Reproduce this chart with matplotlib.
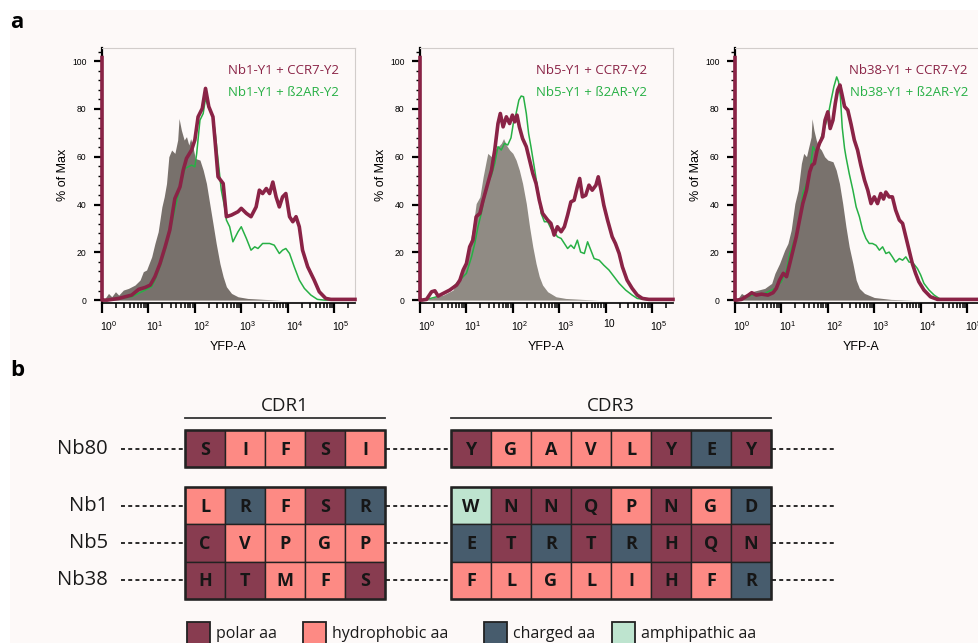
import numpy as np
import matplotlib.pyplot as plt
from matplotlib.patches import Rectangle
from matplotlib.ticker import FixedLocator, LogLocator, MultipleLocator
from matplotlib.transforms import ScaledTranslation

# ---------------- panel a: flow histograms (log10 YFP-A vs % of Max) ----------------
nb1_ccr7_lx = [0.0, 0.0, 0.04, 0.11, 0.36, 0.64, 0.79, 0.93, 1.04, 1.14, 1.25, 1.36, 1.46, 1.57, 1.68, 1.75,
               1.82, 1.93, 2.00, 2.07, 2.16, 2.23, 2.30, 2.39, 2.44, 2.50, 2.61, 2.68, 2.79, 2.93, 3.00,
               3.11, 3.21, 3.32, 3.39, 3.46, 3.54, 3.61, 3.68, 3.75, 3.82, 3.89, 3.96, 4.04, 4.11, 4.18,
               4.25, 4.32, 4.43, 4.57, 4.68, 4.82, 4.93, 5.45]
nb1_ccr7_pct = [101.5, 0, 0, 0, 0.7, 2.1, 4.5, 5.3, 6.3, 9.8, 15.3, 22.3, 29.3, 42.5, 47.4, 54.4,
                59.3, 62.8, 67.0, 76.7, 80.2, 88.6, 81.0, 76.7, 65.6, 51.6, 48.8, 34.9, 35.6, 37.0, 38.4,
                36.3, 34.9, 39.0, 46.0, 44.6, 46.7, 44.6, 49.4, 43.2, 39.0, 43.2, 44.6, 34.9, 32.8, 34.9,
                30.7, 20.9, 14.0, 8.4, 3.5, 0.7, 0.3, 0.3]
nb1_b2ar_lx = [0.11, 0.64, 0.93, 1.07, 1.14, 1.25, 1.36, 1.46, 1.64, 1.71, 1.79, 1.86, 1.93, 2.00, 2.04,
               2.11, 2.18, 2.23, 2.29, 2.39, 2.44, 2.50, 2.57, 2.64, 2.68, 2.75, 2.82, 2.93, 3.00, 3.11,
               3.21, 3.29, 3.36, 3.46, 3.61, 3.71, 3.82, 3.89, 3.96, 4.04, 4.14, 4.25, 4.36, 4.50, 4.64,
               4.79, 5.45]
nb1_b2ar_pct = [0, 1.4, 4.2, 5.6, 8.4, 14.0, 20.9, 28.5, 43.9, 49.9, 55.1, 55.8, 56.5, 55.8, 61.4,
                75.3, 78.1, 84.4, 81.0, 76.7, 69.7, 58.6, 46.0, 39.0, 33.5, 30.7, 24.4, 28.6, 30.7, 25.8,
                20.9, 22.3, 21.6, 23.7, 23.7, 23.0, 19.5, 20.9, 21.6, 19.5, 14.0, 8.4, 4.9, 2.1, 0.3,
                0, 0]
nb1_ctrl_lx = [0.04, 0.14, 0.21, 0.29, 0.36, 0.46, 0.57, 0.71, 0.82, 0.89, 0.96, 1.07, 1.14, 1.21, 1.29,
               1.34, 1.39, 1.44, 1.50, 1.57, 1.63, 1.66, 1.71, 1.77, 1.82, 1.87, 1.91, 1.96, 2.01, 2.11,
               2.18, 2.25, 2.32, 2.39, 2.46, 2.54, 2.61, 2.68, 2.79, 2.93, 3.14, 3.50, 3.86, 5.45]
nb1_ctrl_pct = [0, 2.8, 1.4, 3.5, 2.1, 4.2, 4.9, 6.3, 8.4, 11.9, 12.6, 18.1, 23.7, 28.6, 39.0,
                43.2, 48.8, 60.0, 62.8, 61.4, 67.0, 76.0, 71.1, 67.0, 68.4, 64.9, 67.6, 64.0, 59.3, 58.6,
                54.4, 48.8, 40.4, 32.1, 23.7, 15.3, 9.8, 5.6, 2.8, 1.4, 0.7, 0.3, 0, 0]

nb5_ccr7_lx = [0.0, 0.0, 0.04, 0.14, 0.25, 0.32, 0.39, 0.50, 0.64, 0.79, 0.86, 0.93, 1.00, 1.07, 1.14, 1.21,
               1.29, 1.36, 1.43, 1.54, 1.61, 1.68, 1.73, 1.79, 1.86, 1.93, 1.99, 2.04, 2.09, 2.14, 2.21,
               2.29, 2.36, 2.43, 2.50, 2.57, 2.64, 2.75, 2.82, 2.89, 2.96, 3.04, 3.11, 3.18, 3.25, 3.32,
               3.39, 3.44, 3.50, 3.57, 3.64, 3.71, 3.79, 3.84, 3.90, 3.96, 4.04, 4.14, 4.21, 4.29, 4.36,
               4.46, 4.57, 4.68, 4.79, 4.93, 5.45]
nb5_ccr7_pct = [101.5, 0, 0, 0.3, 3.5, 3.9, 1.7, 2.8, 4.2, 6.3, 8.4, 12.6, 15.3, 22.3, 25.1, 34.9,
                36.3, 41.8, 46.7, 54.4, 62.8, 73.9, 78.1, 72.5, 76.7, 73.9, 77.4, 74.6, 77.4, 72.5, 67.6,
                64.2, 58.6, 53.0, 48.8, 41.8, 36.3, 33.5, 32.1, 27.2, 30.7, 28.6, 30.7, 35.6, 41.1, 41.8,
                47.4, 50.9, 43.2, 43.9, 48.1, 46.0, 48.1, 51.6, 46.0, 39.7, 33.5, 26.5, 23.7, 19.5, 13.9,
                8.4, 4.9, 2.1, 0.7, 0.3, 0.3]
nb5_b2ar_lx = [0.14, 0.36, 0.64, 0.86, 1.00, 1.11, 1.18, 1.25, 1.32, 1.39, 1.46, 1.54, 1.61, 1.68, 1.75,
               1.82, 1.89, 1.96, 2.01, 2.07, 2.13, 2.18, 2.23, 2.29, 2.34, 2.39, 2.46, 2.54, 2.61, 2.68,
               2.75, 2.82, 2.89, 2.96, 3.04, 3.11, 3.18, 3.25, 3.32, 3.39, 3.46, 3.54, 3.61, 3.68, 3.75,
               3.86, 3.96, 4.07, 4.18, 4.29, 4.43, 4.57, 4.68, 4.93, 5.45]
nb5_b2ar_pct = [0.3, 1.4, 3.9, 8.4, 11.2, 18.1, 23.7, 30.7, 36.3, 43.2, 48.8, 52.3, 57.2, 64.2, 62.8,
                65.6, 64.9, 67.9, 73.9, 78.1, 83.7, 85.4, 85.1, 78.1, 69.7, 64.2, 55.8, 46.0, 36.3, 32.8,
                32.8, 30.0, 28.6, 26.5, 25.8, 23.7, 21.6, 23.0, 21.6, 25.1, 20.1, 19.5, 24.4, 20.9, 17.4,
                16.7, 14.6, 12.6, 9.8, 7.0, 4.2, 2.1, 0.7, 0, 0]
nb5_ctrl_lx = [0.04, 0.21, 0.50, 0.71, 0.86, 0.93, 1.00, 1.07, 1.14, 1.21, 1.29, 1.36, 1.43, 1.46, 1.54,
               1.61, 1.68, 1.75, 1.80, 1.86, 1.93, 2.00, 2.07, 2.14, 2.21, 2.29, 2.36, 2.43, 2.50, 2.57,
               2.64, 2.75, 2.93, 3.14, 3.50, 3.86, 5.45]
nb5_ctrl_pct = [0, 0.7, 2.1, 4.2, 9.8, 14.0, 15.3, 23.7, 30.7, 40.4, 43.2, 51.6, 58.6, 61.4, 60.0,
                62.8, 64.2, 65.6, 67.6, 64.9, 62.8, 61.4, 58.6, 54.4, 48.8, 40.4, 30.7, 22.3, 15.3, 9.8,
                6.3, 3.5, 1.4, 0.7, 0.3, 0, 0]

nb38_ccr7_lx = [0.0, 0.0, 0.04, 0.14, 0.29, 0.36, 0.46, 0.57, 0.71, 0.82, 0.89, 0.96, 1.04, 1.11, 1.18, 1.25,
                1.32, 1.39, 1.46, 1.54, 1.61, 1.66, 1.71, 1.77, 1.82, 1.89, 1.94, 2.00, 2.05, 2.11, 2.16,
                2.21, 2.26, 2.30, 2.36, 2.43, 2.50, 2.57, 2.64, 2.71, 2.79, 2.86, 2.93, 3.00, 3.07, 3.14,
                3.20, 3.25, 3.32, 3.39, 3.46, 3.54, 3.61, 3.68, 3.75, 3.82, 3.89, 3.96, 4.07, 4.21, 4.36,
                5.45]
nb38_ccr7_pct = [101.5, 0, 0, 0.3, 2.1, 3.1, 2.1, 2.5, 2.1, 3.1, 4.9, 8.4, 11.2, 9.8, 15.3, 20.9,
                 26.5, 33.5, 40.4, 46.0, 53.7, 56.5, 57.2, 62.8, 65.6, 68.3, 75.3, 78.8, 71.8, 75.3, 82.3,
                 87.9, 90.0, 86.5, 81.0, 79.5, 73.6, 67.0, 62.8, 56.5, 50.2, 46.0, 40.4, 43.2, 40.4, 44.6,
                 42.3, 45.2, 43.2, 43.2, 37.7, 33.5, 32.1, 26.5, 20.9, 15.3, 11.2, 7.7, 4.2, 1.4, 0.3,
                 0.3]
nb38_b2ar_lx = [0.14, 0.36, 0.64, 0.86, 1.00, 1.11, 1.18, 1.25, 1.36, 1.46, 1.54, 1.61, 1.68, 1.73, 1.79,
                1.86, 1.93, 2.00, 2.07, 2.13, 2.19, 2.23, 2.27, 2.31, 2.36, 2.39, 2.46, 2.54, 2.61, 2.68,
                2.75, 2.82, 2.89, 2.96, 3.04, 3.11, 3.18, 3.25, 3.32, 3.39, 3.46, 3.54, 3.61, 3.68, 3.75,
                3.82, 3.93, 4.00, 4.07, 4.18, 4.29, 4.43, 5.45]
nb38_b2ar_pct = [0.3, 2.1, 2.8, 4.9, 7.7, 12.6, 19.5, 23.7, 29.3, 44.6, 48.8, 53.0, 64.2, 62.5, 62.8,
                 68.3, 72.2, 76.7, 83.7, 89.3, 93.4, 91.4, 85.1, 72.2, 63.5, 60.0, 53.0, 46.0, 39.0, 34.9,
                 29.3, 25.8, 23.7, 23.7, 22.9, 20.9, 22.3, 19.5, 20.1, 18.1, 15.9, 17.4, 16.7, 18.1, 15.9,
                 15.9, 13.2, 10.5, 7.0, 4.2, 2.1, 0.3, 0]
nb38_ctrl_lx = [0.04, 0.14, 0.25, 0.36, 0.50, 0.64, 0.79, 0.86, 0.96, 1.07, 1.14, 1.21, 1.29, 1.36, 1.43,
                1.48, 1.54, 1.59, 1.64, 1.66, 1.70, 1.75, 1.80, 1.86, 1.93, 2.00, 2.11, 2.18, 2.25, 2.32,
                2.39, 2.46, 2.54, 2.61, 2.68, 2.79, 3.00, 3.36, 3.86, 5.45]
nb38_ctrl_pct = [0, 2.8, 1.4, 3.5, 4.2, 4.9, 7.0, 11.2, 15.3, 20.9, 23.7, 29.3, 40.4, 46.0, 57.2,
                 61.4, 60.0, 64.2, 68.3, 75.9, 71.1, 67.0, 64.2, 62.8, 60.0, 58.6, 57.9, 54.4, 48.8, 40.4,
                 30.7, 22.3, 15.3, 8.4, 4.9, 2.8, 1.1, 0.3, 0, 0]

panel_names = ['Nb1', 'Nb5', 'Nb38']
ccr7_lx = [nb1_ccr7_lx, nb5_ccr7_lx, nb38_ccr7_lx]
ccr7_pct = [nb1_ccr7_pct, nb5_ccr7_pct, nb38_ccr7_pct]
b2ar_lx = [nb1_b2ar_lx, nb5_b2ar_lx, nb38_b2ar_lx]
b2ar_pct = [nb1_b2ar_pct, nb5_b2ar_pct, nb38_b2ar_pct]
ctrl_lx = [nb1_ctrl_lx, nb5_ctrl_lx, nb38_ctrl_lx]
ctrl_pct = [nb1_ctrl_pct, nb5_ctrl_pct, nb38_ctrl_pct]
decades = [0, 1, 2, 3, 4, 5]
xtick_labels = [
    [r'$10^{0}$', r'$10^{1}$', r'$10^{2}$', r'$10^{3}$', r'$10^{4}$', r'$10^{5}$'],
    [r'$10^{0}$', r'$10^{1}$', r'$10^{2}$', r'$10^{3}$', '10', r'$10^{5}$'],
    [r'$10^{0}$', r'$10^{1}$', r'$10^{2}$', r'$10^{3}$', r'$10^{4}$', r'$10^{5}$'],
]

# ---------------- panel b: CDR sequences ----------------
nanobodies = ['Nb80', 'Nb1', 'Nb5', 'Nb38']
cdr1_seq = ['SIFSI', 'LRFSR', 'CVPGP', 'HTMFS']
cdr3_seq = ['YGAVLYEY', 'WNNQPNGD', 'ETRTRHQN', 'FLGLIHFR']
aa_class = {'S': 'polar', 'T': 'polar', 'N': 'polar', 'Q': 'polar', 'Y': 'polar', 'C': 'polar', 'H': 'polar',
            'I': 'hydrophobic', 'F': 'hydrophobic', 'G': 'hydrophobic', 'A': 'hydrophobic', 'V': 'hydrophobic',
            'L': 'hydrophobic', 'P': 'hydrophobic', 'M': 'hydrophobic',
            'E': 'charged', 'R': 'charged', 'D': 'charged', 'W': 'amphipathic'}
classes = ['polar', 'hydrophobic', 'charged', 'amphipathic']
class_colors = {'polar': '#883c50', 'hydrophobic': '#fd8a84', 'charged': '#475c6d', 'amphipathic': '#bee4cf'}

BG = '#fdf9f8'
MAROON = '#8a2346'
GREEN = '#27b045'
CTRL_FILL = ['#78716c', '#908b84', '#79726d']
W, H = 979, 643

plt.rcParams['font.family'] = ['Liberation Sans', 'DejaVu Sans']
plt.rcParams['mathtext.default'] = 'regular'
SANS = ['Open Sans', 'DejaVu Sans']


def px_box(x0, y0, x1, y1):
    return [x0 / W, 1 - y1 / H, (x1 - x0) / W, (y1 - y0) / H]


fig = plt.figure(figsize=(W / 100, H / 100), dpi=100, facecolor=BG)

# background frame + panel b drawing area in pixel coords
axb = fig.add_axes([0, 0, 1, 1], zorder=0)
axb.set_xlim(0, W)
axb.set_ylim(H, 0)
axb.axis('off')
axb.add_patch(Rectangle((0, 0), W, 10, fc='white', ec='none'))
axb.add_patch(Rectangle((0, 0), 10, H, fc='white', ec='none'))

fig.text(10 / W, 1 - 23 / H, 'a', fontsize=16, fontweight='bold', family=SANS, va='center')
fig.text(10 / W, 1 - 371 / H, 'b', fontsize=16, fontweight='bold', family=SANS, va='center')

# ---- panel a ----
ax_left = [102, 420, 735]
legend_right = [339, 647, 968]
for i, name in enumerate(panel_names):
    x0 = ax_left[i]
    ax = fig.add_axes(px_box(x0, 48, x0 + 253, 302.5), zorder=2)
    ax.set_facecolor('none')
    ax.fill_between(10.0 ** np.array(ctrl_lx[i]), ctrl_pct[i], 0, color=CTRL_FILL[i], lw=0)
    ax.plot(10.0 ** np.array(b2ar_lx[i]), b2ar_pct[i], color=GREEN, lw=1.1)
    ax.plot(10.0 ** np.array(ccr7_lx[i]), ccr7_pct[i], color=MAROON, lw=2.6,
            solid_joinstyle='round', clip_on=False, zorder=3)
    ax.set_xscale('log')
    ax.set_xlim(1, 10 ** 5.45)
    ax.set_ylim(-1, 105.5)
    ax.xaxis.set_major_locator(FixedLocator(10.0 ** np.array(decades)))
    ax.xaxis.set_minor_locator(LogLocator(base=10, subs=np.arange(2, 10), numticks=20))
    ax.set_xticklabels(xtick_labels[i])
    ax.yaxis.set_major_locator(MultipleLocator(20))
    ax.yaxis.set_minor_locator(MultipleLocator(4))
    ax.tick_params(axis='x', which='major', length=7, width=1.6, labelsize=7.5, pad=5)
    ax.tick_params(axis='x', which='minor', length=3.5, width=1.1)
    ax.tick_params(axis='y', which='major', length=6, width=1.6, labelsize=6.2, pad=5)
    ax.tick_params(axis='y', which='minor', length=3, width=1.0)
    for lab in ax.get_xticklabels():
        lab.set_ha('left')
        lab.set_transform(lab.get_transform() + ScaledTranslation(-2 / 100, 0, fig.dpi_scale_trans))
    ax.spines['left'].set_linewidth(1.6)
    ax.spines['bottom'].set_linewidth(1.2)
    for s in ['top', 'right']:
        ax.spines[s].set_color('#d2cdcb')
        ax.spines[s].set_linewidth(0.8)
    ax.set_xlabel('YFP-A', fontsize=9, labelpad=6)
    ax.set_ylabel('% of Max', fontsize=9, labelpad=2)
    fig.text(legend_right[i] / W, 1 - 70 / H, name + '-Y1 + CCR7-Y2', color=MAROON,
             fontsize=9.5, family=SANS, ha='right', va='center')
    fig.text(legend_right[i] / W, 1 - 93 / H, name + '-Y1 + ß2AR-Y2', color=GREEN,
             fontsize=9.5, family=SANS, ha='right', va='center')

# ---- panel b ----
CELL = 40
row_h = 37.3
row_top = [430, 487, 487 + row_h, 487 + 2 * row_h]
cdr1_x0, cdr3_x0 = 185, 451
dotted = [(120, cdr1_x0), (cdr1_x0 + 5 * CELL, cdr3_x0), (cdr3_x0 + 8 * CELL, 837)]

for r, nb in enumerate(nanobodies):
    yc = row_top[r] + row_h / 2
    axb.text(108, yc, nb, ha='right', va='center', fontsize=14.5, family=SANS, color='#1a1a1a')
    for a, b in dotted:
        axb.plot([a + 1, b - 1], [yc, yc], color='#1a1a1a', lw=1.3, ls=(0, (2.2, 1.8)))
    for x0, seq in [(cdr1_x0, cdr1_seq[r]), (cdr3_x0, cdr3_seq[r])]:
        for c, aa in enumerate(seq):
            axb.add_patch(Rectangle((x0 + c * CELL, row_top[r]), CELL, row_h,
                                    fc=class_colors[aa_class[aa]], ec='#222222', lw=1.0))
            axb.text(x0 + c * CELL + CELL / 2, yc + 1, aa, ha='center', va='center',
                     fontsize=13, fontweight='bold', family=SANS, color='#161616')

# thicker outline around the blocks
for x0, n in [(cdr1_x0, 5), (cdr3_x0, 8)]:
    axb.add_patch(Rectangle((x0, row_top[0]), n * CELL, row_h, fc='none', ec='#222222', lw=1.8))
    axb.add_patch(Rectangle((x0, row_top[1]), n * CELL, 3 * row_h, fc='none', ec='#222222', lw=1.8))

# CDR headers
for x0, n, label in [(cdr1_x0, 5, 'CDR1'), (cdr3_x0, 8, 'CDR3')]:
    axb.plot([x0, x0 + n * CELL], [417.5, 417.5], color='#333333', lw=1.3)
    axb.text(x0 + n * CELL / 2, 406, label, ha='center', va='center', fontsize=13.5,
             family=SANS, color='#1a1a1a')

# legend
legend_x = [187, 303, 484, 612]
for cls, lx in zip(classes, legend_x):
    axb.add_patch(Rectangle((lx, 622), 23, 25, fc=class_colors[cls], ec='#222222', lw=1.3, clip_on=False))
    axb.text(lx + 29, 634, cls + ' aa', ha='left', va='center', fontsize=11.5, family=SANS,
             color='#1a1a1a')

fig.savefig('out.png', dpi=100, facecolor=BG)
